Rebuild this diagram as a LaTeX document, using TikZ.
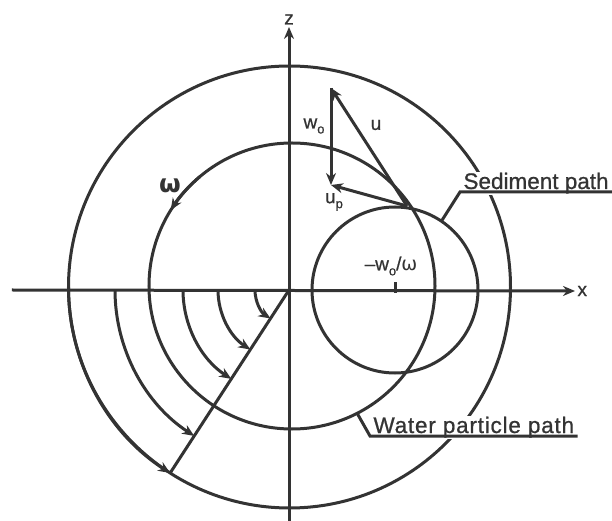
\documentclass[tikz,border=0pt]{standalone}
\usepackage{fontspec}
\setmainfont{Liberation Sans}[FakeBold=0.8]
\newfontfamily\greekfont{DejaVu Sans}
\usetikzlibrary{arrows.meta}
\tikzstyle{vec} = [draw,-{Stealth[length=12pt,width=10pt]}]
\tikzstyle{txt} = [font=\fontsize{19}{21}\selectfont, inner sep=1pt]
\tikzstyle{tag} = [font=\fontsize{22.5}{25}\selectfont, fill=white, inner xsep=2pt, inner ysep=1pt]
\newcommand{\lowsub}[1]{\raisebox{-0.5ex}{\fontsize{13}{15}\selectfont #1}}

\begin{document}
\begin{tikzpicture}[x=1pt, y=1pt, line width=3pt, color=black!80]
				\useasboundingbox (-289,-231) rectangle (323,290);

				% First we draw the axes
				\coordinate (O) at (0,0);
				\coordinate (xl) at (-277,0);
				\coordinate (zb) at (0,-231);
				\node[txt, anchor=west] (xlab) at (286,-1) {x};
				\node[txt, anchor=south] (zlab) at (0,263) {z};
				\path[vec] (xl) -- (xlab.west);
				\path[vec] (zb) -- (zlab.south);

				% The three circles and the tick at the sediment centre
				\coordinate (Co) at (0.5,3);
				\coordinate (Cw) at (3,4);
				\coordinate (Cs) at (106,0);
				\draw (Co) circle (221);
				\draw (Cw) circle (143);
				\draw (Cs) circle (83);
				\draw (106,-3) -- (106,8);

				% Arcs turning down onto the radius line
				\coordinate (R) at (237:218.2);
				\draw (O) -- (R);
				\foreach \r in {34, 71, 106, 174}
				\path[vec] (-\r,0) arc (180:237:\r);
				\path[vec] (Co) ++(180:221) arc (180:237.3:221);
				\path[vec] (Cw) ++(130:143) arc (130:148:143);
				\node[font=\greekfont\bfseries\fontsize{25}{27}\selectfont] (om) at (-119,104) {ω};

				% Velocity vectors
				\coordinate (P) at (118,84);
				\coordinate (A) at (42,202);
				\coordinate (B) at (42,105);
				\foreach \source/ \dest in {P/A, A/B, P/B}
				\path[vec] (\source) -- (\dest);
				\node[txt] (wo) at (25,164) {w\lowsub{o}};
				\node[txt] (u) at (87,165) {u};
				\node[txt] (up) at (45,88) {u\lowsub{p}};
				\node[txt] (ctr) at (102,24) {--w\lowsub{o}/{\greekfont ω}};

				% Labels with underline and leader
				\node[tag, anchor=base west] (sed) at (171,101) {Sediment path};
				\draw ([yshift=-3pt]sed.base east) -- ([yshift=-3pt]sed.base west) -- ([shift={(56:83)}]Cs);
				\node[tag, anchor=base west] (wat) at (81,-143) {\addfontfeatures{LetterSpace=3.5}Water particle path};
				\draw ([yshift=-3pt]wat.base east) -- ([yshift=-3pt]wat.base west) -- ([shift={(-62.9:143)}]Cw);
			\end{tikzpicture}
\end{document}
